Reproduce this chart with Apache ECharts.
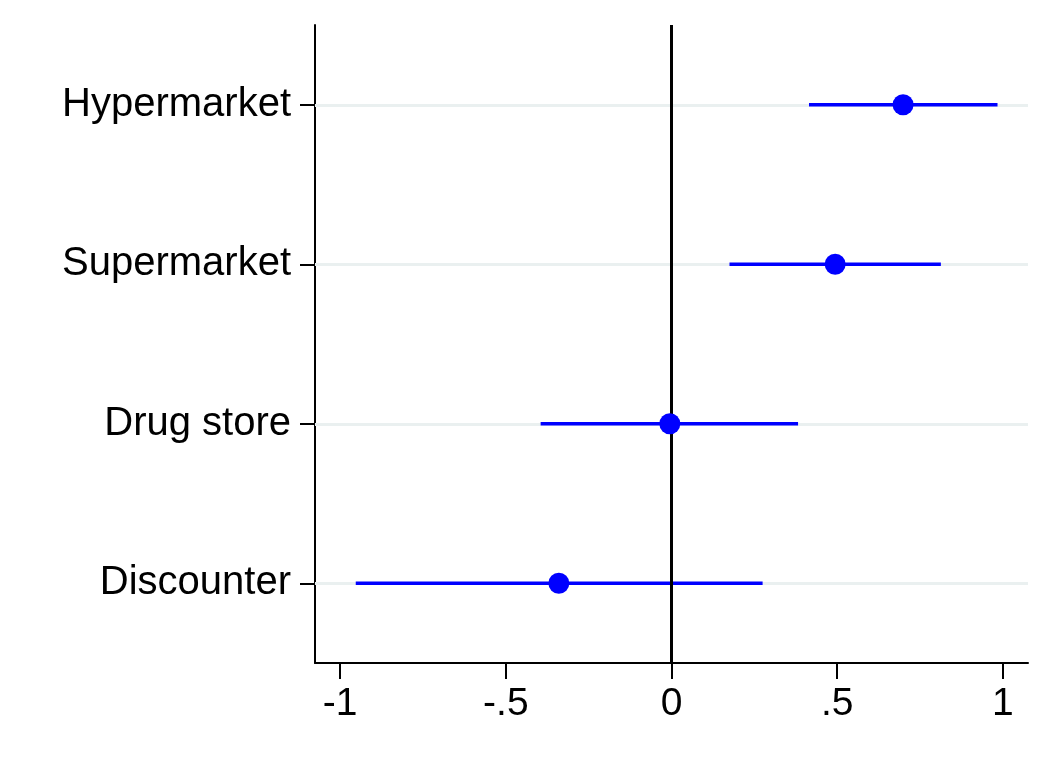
<!DOCTYPE html>
<html>
<head>
<meta charset="utf-8">
<script src="https://cdn.jsdelivr.net/npm/echarts@6/dist/echarts.min.js"></script>
<style>
html,body{margin:0;padding:0;background:#fff;}
#chart{width:1054px;height:766px;}
</style>
</head>
<body>
<div id="chart"></div>
<script>
// Data (bottom to top)
const categories = ['Discounter', 'Drug store', 'Supermarket', 'Hypermarket'];
const estimates = [-0.340, -0.005, 0.494, 0.699];
const ciLower = [-0.953, -0.395, 0.175, 0.415];
const ciUpper = [0.275, 0.382, 0.813, 0.984];
const xTickValues = [-1, -0.5, 0, 0.5, 1];
const xTickLabels = ['-1', '-.5', '0', '.5', '1'];

const chart = echarts.init(document.getElementById('chart'));
const font = 'Liberation Sans, Arial, sans-serif';

const pointData = categories.map((c, i) => [estimates[i], c]);

const ciSeries = categories.map((c, i) => ({
  type: 'line',
  name: 'ci_' + c,
  z: 3,
  silent: true,
  symbol: 'none',
  showSymbol: false,
  data: [[ciLower[i], c], [ciUpper[i], c]],
  lineStyle: {color: '#0000ff', width: 3.6, cap: 'butt'},
  itemStyle: {color: '#0000ff'},
  emphasis: {disabled: true}
}));

chart.setOption({
  animation: false,
  backgroundColor: '#ffffff',
  grid: {left: 315, right: 26, top: 25, bottom: 103, containLabel: false},
  xAxis: {
    type: 'value',
    min: -1.076,
    max: 1.076,
    axisLine: {show: true, onZero: false, lineStyle: {color: '#000', width: 2}},
    axisTick: {show: true, length: 16, customValues: xTickValues, lineStyle: {color: '#000', width: 2}},
    axisLabel: {
      customValues: xTickValues,
      formatter: v => xTickLabels[xTickValues.findIndex(t => Math.abs(t - v) < 1e-9)],
      fontSize: 39, fontFamily: font, color: '#000', margin: 22
    },
    splitLine: {show: false}
  },
  yAxis: {
    type: 'category',
    data: categories,
    boundaryGap: true,
    axisLine: {show: true, onZero: false, lineStyle: {color: '#000', width: 2}},
    axisTick: {show: true, alignWithLabel: true, length: 15, lineStyle: {color: '#000', width: 2}},
    axisLabel: {fontSize: 40, fontFamily: font, color: '#000', margin: 24},
    splitLine: {show: false}
  },
  series: [
    {
      type: 'line',
      data: [],
      silent: true,
      z: 1,
      markLine: {
        z: 1,
        silent: true,
        symbol: ['none', 'none'],
        label: {show: false},
        lineStyle: {color: '#eaf0f0', width: 3, type: 'solid'},
        emphasis: {disabled: true},
        data: categories.map(c => ({yAxis: c}))
      }
    },
    ...ciSeries,
    {
      type: 'line',
      data: [],
      silent: true,
      z: 4,
      markLine: {
        z: 4,
        silent: true,
        symbol: ['none', 'none'],
        label: {show: false},
        lineStyle: {color: '#000', width: 3, type: 'solid'},
        emphasis: {disabled: true},
        data: [{xAxis: 0}]
      }
    },
    {
      type: 'scatter',
      z: 6,
      data: pointData,
      symbol: 'circle',
      symbolSize: 21,
      itemStyle: {color: '#0000ff', opacity: 1}
    }
  ]
});
</script>
</body>
</html>
